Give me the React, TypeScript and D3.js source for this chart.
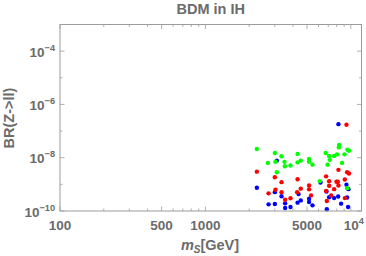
import React from 'react';
import * as d3 from 'd3';

// [m_S in GeV, BR(Z->ll)]
const bluePoints = [
  [8225, 1.82e-7], [2260, 7.5e-10], [3004, 5.1e-10], [2720, 1.78e-10], [3004, 1.82e-10],
  [3340, 3.6e-10], [3535, 1.94e-10], [3535, 1.29e-10], [3850, 1.41e-10], [4305, 2.06e-10],
  [4530, 2.5e-10], [4375, 4.3e-10], [5165, 2.9e-10], [5165, 2.17e-10], [5455, 1.63e-10],
  [6190, 1.18e-9], [6810, 5.4e-10], [7100, 3.3e-10], [6840, 1.16e-10], [7680, 3.05e-10],
  [8185, 3.5e-10], [8575, 1.89e-10], [9340, 9.7e-10], [9640, 6.6e-10], [9580, 1.41e-10],
  [9435, 3.2e-10], [3100, 7.8e-9],
];
const redPoints = [
  [9340, 1.72e-7], [2260, 3.0e-9], [2720, 4.6e-10], [3004, 1.86e-9], [3034, 6.3e-10],
  [3340, 1.21e-9], [3340, 5.1e-10], [3535, 2.66e-10], [3850, 3.0e-10], [4305, 1.56e-9],
  [4530, 6.9e-10], [4276, 5.1e-10], [5165, 9.1e-10], [5165, 6.5e-10], [5330, 3.85e-10],
  [6765, 2.0e-9], [7100, 1.32e-9], [7100, 8.9e-10], [6765, 5.6e-10], [6840, 2.36e-10],
  [7325, 3.85e-10], [7680, 6.6e-10], [7975, 1.25e-9], [8225, 3.5e-9], [8145, 1.25e-9],
  [8225, 9.1e-10], [9100, 1.52e-9], [9435, 2.85e-9], [9730, 2.55e-9], [9100, 3.05e-10],
];
const greenPoints = [
  [2260, 2.13e-8], [2690, 6.4e-9], [3004, 1.51e-8], [3034, 7.1e-9], [3340, 1.13e-8],
  [3500, 7.0e-9], [3520, 4.8e-9], [3850, 5.1e-9], [3100, 2.85e-9], [4305, 1.39e-8],
  [4305, 6.7e-9], [4530, 7.8e-9], [5165, 9.0e-9], [5165, 7.1e-9], [5455, 5.5e-9],
  [6120, 1.32e-9], [6730, 1.51e-8], [7100, 1.17e-8], [6920, 5.5e-9], [7175, 8.3e-9],
  [7680, 1.17e-8], [8050, 1.34e-8], [8310, 3.0e-8], [8275, 2.44e-8], [8710, 6.4e-9],
  [9055, 1.34e-8], [9485, 2.0e-8], [9730, 1.84e-8], [9435, 7.2e-10],
];

const xMajor = [100, 500, 1000, 5000, 10000];
const xLabels = ['100', '500', '1000', '5000', '10^4'];
const yMajor = [1e-10, 1e-8, 1e-6, 1e-4];
const yLabels = ['10^−10', '10^−8', '10^−6', '10^−4'];
const yMinor = [1e-9, 1e-7, 1e-5];

const series = [
  { pts: bluePoints, color: '#0000ff' },
  { pts: redPoints, color: '#ff0000' },
  { pts: greenPoints, color: '#00ff00' },
];

const W = 366, H = 256;
const box = { left: 60, right: 361.5, top: 24.5, bottom: 211 };
const frameColor = '#9c9c9c';
const textColor = '#6b6b6b';
const font = '"Liberation Sans", Arial, sans-serif';

const Label = ({ s, x, y, anchor, size }) => {
  const [base, sup] = s.split('^');
  return (
    <text x={x} y={y} textAnchor={anchor} fontSize={size} fontWeight="bold"
      fill={textColor} fontFamily={font}>
      {base}
      {sup && <tspan dy={-6} fontSize={size * 0.68}>{sup}</tspan>}
    </text>
  );
};

export default function App() {
  const x = d3.scaleLog().domain([100, 11850]).range([box.left, box.right]);
  const y = d3.scaleLog().domain([1e-10, 1e-3]).range([box.bottom, box.top]);

  const xMinor = [];
  [100, 1000].forEach(d => {
    for (let k = 2; k <= 9; k++) if (k !== 5) xMinor.push(d * k);
  });

  const tick = (v, len, key) => (
    <g key={key} stroke={frameColor} strokeWidth={0.8}>
      <line x1={x(v)} x2={x(v)} y1={box.bottom} y2={box.bottom - len} />
      <line x1={x(v)} x2={x(v)} y1={box.top} y2={box.top + len} />
    </g>
  );
  const ytick = (v, len, key) => (
    <g key={key} stroke={frameColor} strokeWidth={0.8}>
      <line x1={box.left} x2={box.left + len} y1={y(v)} y2={y(v)} />
      <line x1={box.right} x2={box.right - len} y1={y(v)} y2={y(v)} />
    </g>
  );

  return (
    <svg width={W} height={H} style={{ position: 'absolute', left: 0, top: 0, background: '#fff' }}>
      <text x={(box.left + box.right) / 2} y={13.5} textAnchor="middle" fontSize={14.5}
        fontWeight="bold" fill={textColor} fontFamily={font}>BDM in IH</text>

      {xMinor.map((v, i) => tick(v, 2.5, 'xm' + i))}
      {xMajor.map((v, i) => tick(v, 4.5, 'xM' + i))}
      {yMinor.map((v, i) => ytick(v, 2.5, 'ym' + i))}
      {yMajor.map((v, i) => ytick(v, 4.5, 'yM' + i))}

      {series.map((s, si) => (
        <g key={si} fill={s.color}>
          {s.pts.map((d, i) => <circle key={i} cx={x(d[0])} cy={y(d[1])} r={2.2} />)}
        </g>
      ))}

      <rect x={box.left} y={box.top} width={box.right - box.left} height={box.bottom - box.top}
        fill="none" stroke={frameColor} strokeWidth={1} />

      {xMajor.map((v, i) => (
        <Label key={i} s={xLabels[i]} x={x(v) + (i === 4 ? 3 : 0)} y={230} anchor="middle" size={13.5} />
      ))}
      {yMajor.map((v, i) => (
        <Label key={i} s={yLabels[i]} x={55} y={y(v) + 5.5} anchor="end" size={13.5} />
      ))}

      <text transform="translate(13.5,118) rotate(-90)" textAnchor="middle" fontSize={14.5}
        fontWeight="bold" fill={textColor} fontFamily={font}>BR(Z-&gt;ll)</text>
      <text x={210} y={250} textAnchor="middle" fontSize={14.5} fontWeight="bold"
        fill={textColor} fontFamily={font}>
        <tspan fontStyle="italic">m</tspan>
        <tspan fontStyle="italic" fontSize={10} dy={3}>S</tspan>
        <tspan dy={-3}>[GeV]</tspan>
      </text>
    </svg>
  );
}
